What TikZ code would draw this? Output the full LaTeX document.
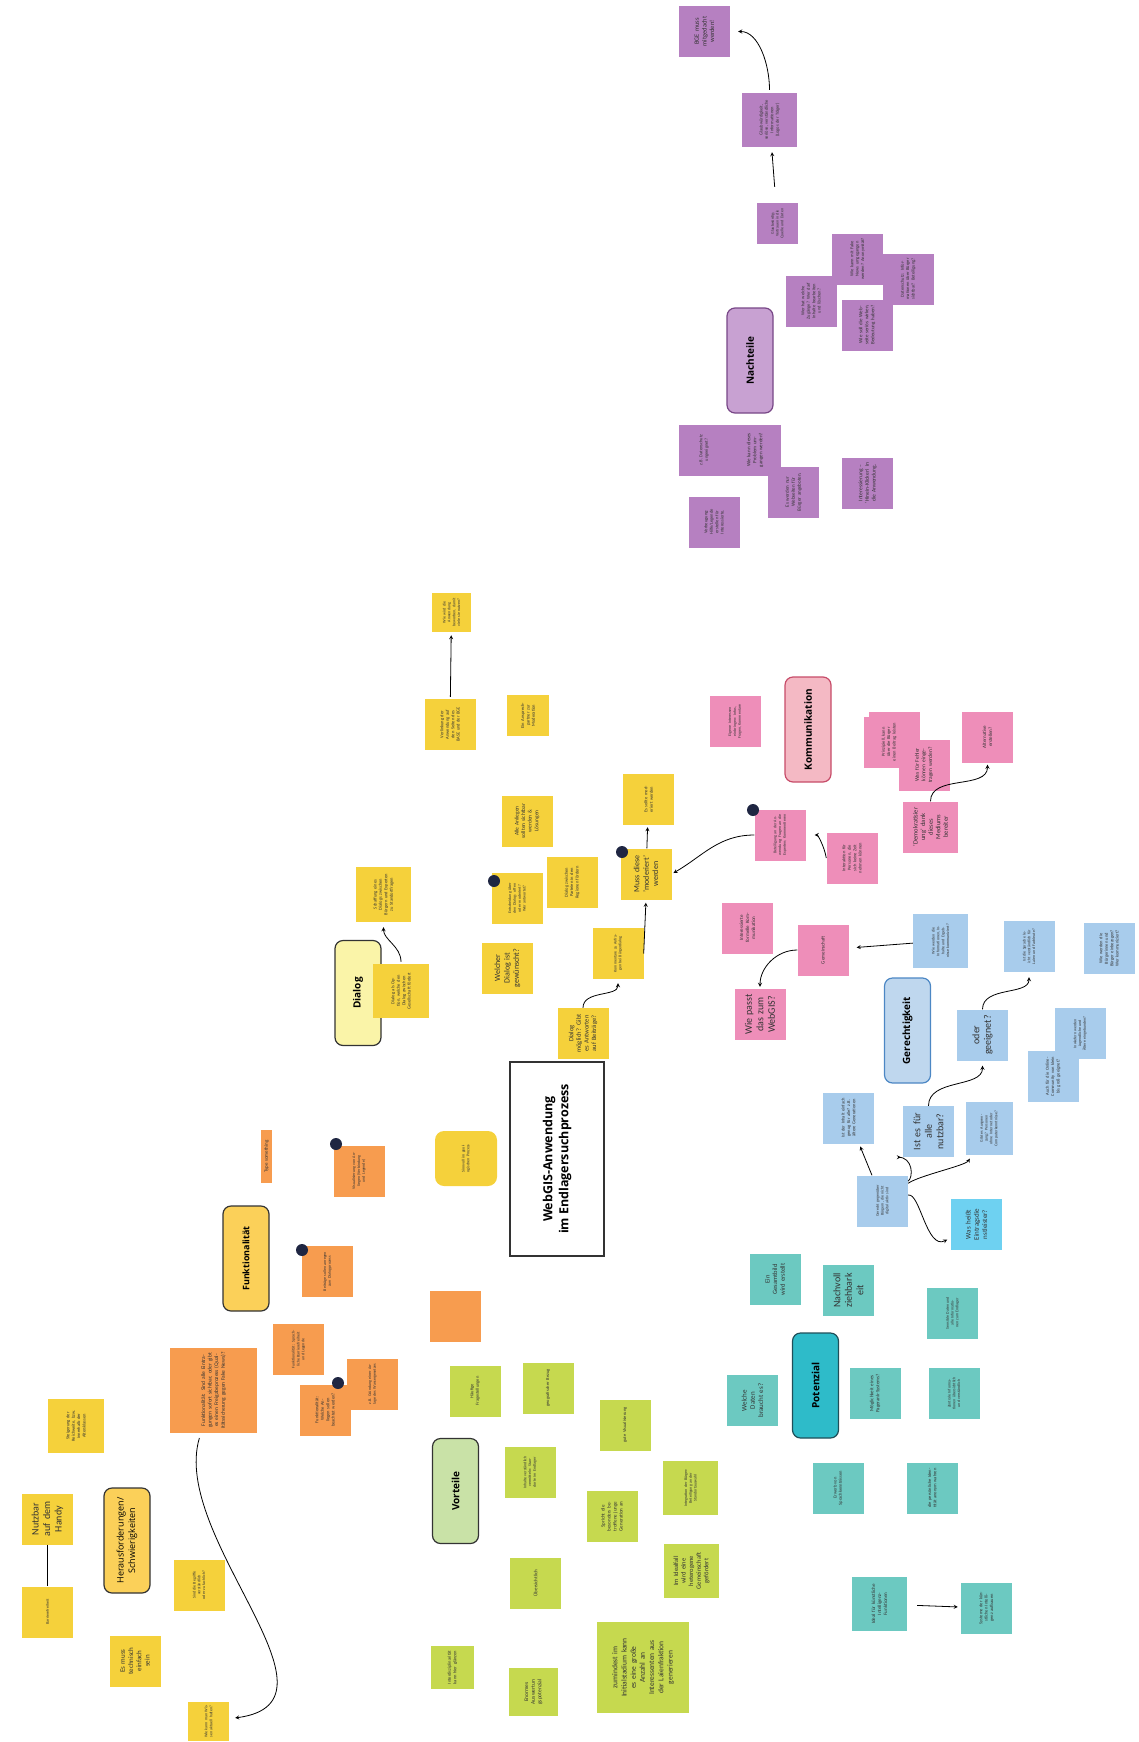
\documentclass[tikz,border=0pt]{standalone}
\usepackage{fontspec}
\setmainfont{Carlito}
\newfontfamily\headfont{Open Sans}
\newlength{\du}
\setlength{\du}{1pt}
\definecolor{textgray}{rgb}{0.200000, 0.200000, 0.200000}
\definecolor{dotblue}{rgb}{0.120000, 0.150000, 0.260000}
\definecolor{stickyyellow}{rgb}{0.960000, 0.820000, 0.230000}
\definecolor{stickyorange}{rgb}{0.970000, 0.610000, 0.310000}
\definecolor{stickypink}{rgb}{0.935000, 0.555000, 0.725000}
\definecolor{stickyblue}{rgb}{0.660000, 0.800000, 0.925000}
\definecolor{stickycyan}{rgb}{0.430000, 0.820000, 0.945000}
\definecolor{stickygreen}{rgb}{0.775000, 0.850000, 0.310000}
\definecolor{stickyteal}{rgb}{0.425000, 0.790000, 0.755000}
\definecolor{stickypurple}{rgb}{0.715000, 0.500000, 0.755000}
\definecolor{boxpurple}{rgb}{0.785000, 0.630000, 0.825000}
\definecolor{linepurple}{rgb}{0.470000, 0.280000, 0.530000}
\definecolor{boxyellow}{rgb}{0.985000, 0.815000, 0.350000}
\definecolor{boxlight}{rgb}{0.980000, 0.955000, 0.660000}
\definecolor{boxpink}{rgb}{0.955000, 0.725000, 0.770000}
\definecolor{linepink}{rgb}{0.780000, 0.300000, 0.410000}
\definecolor{boxblue}{rgb}{0.750000, 0.845000, 0.935000}
\definecolor{lineblue}{rgb}{0.300000, 0.530000, 0.770000}
\definecolor{boxteal}{rgb}{0.180000, 0.735000, 0.790000}
\definecolor{lineteal}{rgb}{0.120000, 0.310000, 0.350000}
\definecolor{boxgreen}{rgb}{0.790000, 0.885000, 0.655000}

\begin{document}
\begin{tikzpicture}[
  sticky/.style={rotate=90, minimum width=51\du, minimum height=51\du, inner sep=1\du, text width=42\du, align=center, text=textgray},
  keybox/.style={rotate=90, rounded corners=8\du, draw, line width=1.2\du, minimum width=105\du, minimum height=46\du, align=center, font=\headfont\bfseries\fontsize{10}{11.5}\selectfont},
  arr/.style={->, >=stealth, line width=0.8\du, black},
  sz4/.style={font=\fontsize{4}{4.8}\selectfont},
  sz45/.style={font=\fontsize{4.5}{5.4}\selectfont},
  sz5/.style={font=\fontsize{5}{6}\selectfont},
  sz55/.style={font=\fontsize{5.5}{6.6}\selectfont},
  sz65/.style={font=\fontsize{6.5}{7.6}\selectfont},
  sz7/.style={font=\fontsize{7}{8.2}\selectfont},
  sz8/.style={font=\fontsize{8}{9.4}\selectfont},
  sz10/.style={font=\fontsize{10}{11.5}\selectfont}
]
\pgftransformxscale{1.000000}
\pgftransformyscale{-1.000000}
\useasboundingbox (0\du,0\du) rectangle (1138\du,1742\du);
% Nachteile
\node[keybox, fill=boxpurple, draw=linepurple] (nachteile) at (750\du,360.5\du) {Nachteile};
\node[sticky, sz65, fill=stickypurple] (p1) at (704.5\du,31.5\du) {BGE muss mitgedacht werden!};
\node[sticky, sz45, fill=stickypurple, minimum width=54\du, minimum height=55\du] (p2) at (769.5\du,120\du) {Glaubwürdigkeit, seriöse, verständliche Informationen (Logos der Träger)};
\node[sticky, sz4, fill=stickypurple, minimum width=41\du, minimum height=41\du, text width=34\du] (p3) at (777.5\du,223.5\du) {Glaubwürdig; Vertrauen in die Quelle und Daten};
\node[sticky, sz45, fill=stickypurple] (p4) at (857.5\du,259\du) {Wie kann mit Fake News umgegangen werden? Anonymität?};
\node[sticky, sz45, fill=stickypurple] (p5) at (908\du,279\du) {Daten\-schutz: Informationen über Bürger sichtbar? Beteiligung?};
\node[sticky, sz45, fill=stickypurple] (p6) at (811\du,301\du) {Wer hat welche Zugänge? Wer darf Inhalte bearbeiten und löschen?};
\node[sticky, sz5, fill=stickypurple] (p7) at (867\du,325\du) {Wie soll die Webseite seriös wirken, Bedeutung haben?};
\node[sticky, sz45, fill=stickypurple] (p8) at (704\du,450\du) {z.B. Datenschutz ungeeignet?};
\node[sticky, sz5, fill=stickypurple] (p9) at (755\du,450\du) {Wie kann dieses Problem umgangen werden?};
\node[sticky, sz5, fill=stickypurple] (p10) at (793.5\du,492\du) {Es werden nur Webseiten für Bürger angeboten.};
\node[sticky, sz45, fill=stickypurple] (p11) at (714\du,522\du) {Vorbeugung: Hilfe/Legende erstellen für Interessierte.};
\node[sticky, sz55, fill=stickypurple] (p12) at (867.5\du,483\du) {Interessierung -- 'Hinein-Klicken' in die Anwendung.};
\draw[arr, shorten <=16\du, shorten >=5\du] (p3) -- (p2);
\draw[arr, shorten <=3\du, shorten >=8\du] (p2.east) to[out=-90, in=0] (p1.south);
% Dialog
\node[keybox, fill=boxlight, draw=textgray] (dialog) at (358\du,993\du) {Dialog};
\node[sticky, sz4, fill=stickyyellow, minimum width=39\du, minimum height=39\du, text width=32\du] (y1) at (451.5\du,612.5\du) {Wie wird die Anwendung beworben, damit viele sie nutzen?};
\node[sticky, sz45, fill=stickyyellow] (y2) at (450\du,724.5\du) {Verlinkung der Anwendung auf den Seiten des BASE und der BGE};
\node[sticky, sz45, fill=stickyyellow, minimum width=41\du, minimum height=42\du, text width=35\du] (y3) at (528\du,715.5\du) {Ein Ansprech\-partner zur Moderation};
\draw[arr, shorten <=2\du, shorten >=3\du] (y2) -- (y1);
\node[sticky, sz45, fill=stickyyellow, minimum width=54\du, minimum height=56\du] (d1) at (401\du,991\du) {Dialog als Option, welche den Dialog zwischen Gesellschaft fördert};
\node[sticky, sz45, fill=stickyyellow, minimum width=55\du, minimum height=55\du] (d2) at (383.5\du,894.5\du) {Schaffung eines Dialogs zwischen Bürgern und Experten zu Standort\-fragen};
\node[sticky, sz4, fill=stickyyellow] (d3) at (517\du,898.5\du) {Entscheidung über den Dialog: offen oder moderiert? Wer antwortet?};
\node[sticky, sz45, fill=stickyyellow] (d4) at (572\du,882.5\du) {Dialog zwischen Parteien in den Regionen fördern};
\node[sticky, sz55, fill=stickyyellow] (d5) at (527\du,821\du) {Alle Anliegen sollten sichtbar werden \& Lösungen};
\node[sticky, sz8, fill=stickyyellow] (d6) at (507.5\du,968\du) {Welcher\\Dialog ist\\gewünscht?};
\node[sticky, sz4, fill=stickyyellow] (d7) at (618\du,953.5\du) {Kommentare zu Anfragen bei Bürgerdialog};
\node[sticky, sz8, fill=stickyyellow] (d8) at (646\du,874\du) {Muss diese\\'moderiert'\\werden};
\node[sticky, sz45, fill=stickyyellow] (d9) at (648.5\du,799.5\du) {Es sollte moderiert werden};
\node[sticky, sz65, fill=stickyyellow] (d10) at (583\du,1033.5\du) {Dialog\\möglich? Gibt\\es Antworten\\auf Beiträge?};
\fill[dotblue] (494\du,881\du) circle[radius=6\du];
\fill[dotblue] (622\du,852\du) circle[radius=6\du];
\draw[arr, shorten <=2\du, shorten >=5\du] (d1.east) to[out=-90, in=90] (d2.west);
\draw[arr, shorten >=4\du] (d10.east) to[out=-90, in=90] (d7.west);
\draw[arr, shorten >=3\du] (d7.south) -- (d8.west);
\draw[arr, shorten >=2\du] (d8) -- (d9);
% Kommunikation
\node[keybox, fill=boxpink, draw=linepink] (kommunikation) at (808\du,729.5\du) {Kommunikation};
\node[sticky, sz4, fill=stickypink] (k0) at (735\du,721.5\du) {Eigene Interessen einbringen: Infos, Fragen, Kommentare};
\node[sticky, sz4, fill=stickypink] (k1) at (780\du,835\du) {Beteiligung an der Anwendung; Fragen an die Experten; Kommentieren};
\node[sticky, sz45, fill=stickypink] (k2a) at (894\du,737.5\du) {};
\node[sticky, sz45, fill=stickypink] (k2) at (889\du,742\du) {Prinzipiell, kann über die Bürger einen Beitrag leisten};
\node[sticky, sz55, fill=stickypink] (k3) at (924\du,765\du) {Was für Fehler können eingetragen werden?};
\node[sticky, sz5, fill=stickypink] (k4) at (987.5\du,737\du) {Alternative erstellen?};
\node[sticky, sz65, fill=stickypink, minimum height=55\du] (k5) at (930.5\du,827\du) {'Demokratisier\\ung' dank\\dieses\\Mediums\\bereiter};
\node[sticky, sz45, fill=stickypink] (k6) at (852\du,858\du) {Interaktion für Personen, die sich keine Zeit nehmen können};
\node[sticky, sz5, fill=stickypink] (k7) at (747.5\du,928\du) {Interessierte formelle Kommunikation};
\node[sticky, sz5, fill=stickypink] (k8) at (823\du,950\du) {Gemeinschaft};
\node[sticky, sz10, fill=stickypink] (k9) at (760\du,1014.5\du) {Wie passt\\das zum\\WebGIS?};
\fill[dotblue] (753\du,810\du) circle[radius=6\du];
\draw[arr, shorten >=2\du] (k5.east) to[out=-90, in=90] (k4.west);
\draw[arr, shorten >=9\du] (k6.north) to[out=-100, in=0] (k1.south);
\draw[arr, shorten >=2\du] (k1.north) to[out=180, in=-30] (d8.south);
\draw[arr, shorten >=2\du] (k8.north) to[out=180, in=-90] (k9.east);
% Gerechtigkeit
\node[keybox, fill=boxblue, draw=lineblue] (gerechtigkeit) at (907.5\du,1030.5\du) {Gerechtigkeit};
\node[sticky, sz4, fill=stickyblue, minimum width=54\du, minimum height=55\du] (b1) at (940.5\du,941\du) {Wie werden die Informationen, Inhalte und Ergebnisse kommuniziert?};
\node[sticky, sz4, fill=stickyblue] (b2) at (1029\du,946.5\du) {Ist die Sprache leicht verständlich für Laien und Fachleute?};
\node[sticky, sz45, fill=stickyblue] (b3) at (1109\du,948.5\du) {Wie werden die Bürgerinnen und Bürger einbezogen? Wer kommuniziert?};
\node[sticky, sz10, fill=stickyblue] (b4) at (982.5\du,1035\du) {oder\\geeignet?};
\node[sticky, sz4, fill=stickyblue] (b5) at (1080\du,1033.5\du) {Inwiefern werden Jugendliche und Ältere eingebunden?};
\node[sticky, sz45, fill=stickyblue] (b6) at (1053\du,1076.5\du) {Auch für die Online-Community von klein bis groß geeignet?};
\node[sticky, sz10, fill=stickyblue] (b7) at (928.5\du,1131.5\du) {Ist es für\\alle\\nutzbar?};
\node[sticky, sz4, fill=stickyblue, minimum width=53\du, minimum height=47\du, text width=40\du] (b8) at (989\du,1128.5\du) {Gibt es Ausgrenzung? Personen ohne Internet oder Computer\-kenntnisse?};
\node[sticky, sz45, fill=stickyblue] (b9) at (848.5\du,1118\du) {Ist der Inhalt einfach genug für alle? z.B. ältere Generationen};
\node[sticky, sz4, fill=stickyblue] (b10) at (882.5\du,1201\du) {Gerecht gegenüber Bürgern, die nicht digital aktiv sind};
\node[sticky, sz7, fill=stickycyan] (b11) at (976.5\du,1224.5\du) {Was heißt\\Eintragsdie\\nstleister?};
\draw[arr, shorten >=8\du] (b1) -- (k8);
\draw[arr, shorten >=3\du] (b10) -- (b9);
\draw[arr, shorten >=12\du] (b10) to[out=-70, in=180] (b7);
\draw[arr, shorten >=4\du] (b10) to[out=0, in=90] (b8);
\draw[arr, shorten >=4\du] (b10) to[out=20, in=180] (b11);
\draw[arr, shorten >=5\du] (b7.east) to[out=-90, in=90] (b4.west);
\draw[arr, shorten >=5\du] (b4.east) to[out=-90, in=90] (b2.west);
% Titel
% setfont left to latex
\node[rotate=90, draw=textgray, line width=1.2\du, fill=white, minimum width=194\du, minimum height=94\du, align=center, font=\headfont\bfseries\fontsize{12.5}{16}\selectfont] (titel) at (557\du,1159\du) {WebGIS-Anwendung\\im Endlagersuchprozess};
% Funktionalitaet
\node[keybox, fill=boxyellow, draw=textgray, font=\headfont\bfseries\fontsize{9}{10.5}\selectfont] (funktionalitaet) at (246\du,1258.5\du) {Funktionalität};
\node[rotate=90, fill=stickyorange, inner sep=1\du, minimum width=53\du, minimum height=11\du, sz5, text=textgray] (o0) at (266.5\du,1156.5\du) {Type something};
\node[sticky, sz4, fill=stickyorange] (o1) at (359\du,1171\du) {Visualisierung von Anliegen (Verbindung und Legende)};
\node[sticky, sz4, fill=stickyorange] (o2) at (327.5\du,1271.5\du) {Beiträge sollen anregen zum Dialog\-prozess};
\node[sticky, fill=stickyorange] (o3) at (455\du,1316.5\du) {};
\node[sticky, sz4, fill=stickyorange] (o4) at (298.5\du,1349.5\du) {Funktionalität: Sprachliche Barriere\-freiheit und Legende};
\node[sticky, sz55, fill=stickyorange, minimum width=85\du, minimum height=87\du, text width=78\du] (o5) at (213.5\du,1390.5\du) {Funktionalität: Sind alle Eintragungen sofort sichtbar, oder gibt es einen Freigabeprozess (Qualitätssicherung gegen Fake News)?};
\node[sticky, sz4, fill=stickyorange] (o6) at (372.5\du,1384\du) {z.B. Gründung einer Anlage des Wassergesetzes};
\node[sticky, sz45, fill=stickyorange] (o7) at (325\du,1410\du) {Funktionalität: Welche Anliegen sollen beachtet werden?};
\node[sticky, sz4, fill=stickyyellow, rounded corners=9\du, minimum width=55\du, minimum height=62\du] (sinnvoll) at (466\du,1158.5\du) {Sinnvoll im geologischen Prozess};
\fill[dotblue] (336\du,1144\du) circle[radius=6\du];
\fill[dotblue] (302\du,1250\du) circle[radius=6\du];
\fill[dotblue] (338\du,1383\du) circle[radius=6\du];
% Vorteile
\node[keybox, fill=boxgreen, draw=textgray] (vorteile) at (455.5\du,1491\du) {Vorteile};
\node[sticky, sz45, fill=stickygreen] (g1) at (475\du,1391\du) {Häufige Fragestellungen};
\node[sticky, sz45, fill=stickygreen] (g2) at (548\du,1388\du) {geografischer Bezug};
\node[sticky, sz45, fill=stickygreen] (g3) at (625\du,1425\du) {gute Visualisierung};
\node[sticky, sz4, fill=stickygreen] (g4) at (530\du,1472.5\du) {Inhalte verständlich vermitteln: Standorte im Endlager};
\node[sticky, sz5, fill=stickygreen] (g5) at (612\du,1516.5\du) {Spricht die besonders betroffene junge Generation an};
\node[sticky, sz4, fill=stickygreen, minimum width=54\du, minimum height=55\du] (g6) at (690.5\du,1488\du) {Integration der Bürger: Beteiligung an der Standort\-auswahl};
\node[sticky, sz5, fill=stickygreen] (g7) at (535.5\du,1583\du) {Übersichtlich};
\node[sticky, sz65, fill=stickygreen, minimum width=54\du, minimum height=55\du] (g8) at (691.5\du,1571\du) {Im Idealfall\\wird eine\\heterogene\\Gemeinschaft\\gefördert};
\node[sticky, sz45, fill=stickygreen, minimum width=43\du, minimum height=43\du, text width=36\du] (g9) at (452.5\du,1667.5\du) {Interdiszipli\-narität kann hier glänzen};
\node[sticky, sz55, fill=stickygreen, minimum width=48\du, minimum height=49\du] (g10) at (533.5\du,1692\du) {Enormes\\Auswertun\\gspotenzial};
\node[sticky, fill=stickygreen, minimum width=91\du, minimum height=92\du, text width=84\du, font=\fontsize{7.5}{9.2}\selectfont] (g11) at (643\du,1667.5\du) {zumindest im\\Initialstadium kann\\es eine große\\Anzahl an\\Interessenten aus\\der Laienfraktion\\generieren};
% Potenzial
\node[keybox, fill=boxteal, draw=lineteal] (potenzial) at (815.5\du,1385.5\du) {Potenzial};
\node[sticky, sz65, fill=stickyteal] (t1) at (775\du,1279.5\du) {Ein\\Gesamtbild\\wird erstellt};
\node[sticky, sz10, fill=stickyteal] (t2) at (848.5\du,1290.5\du) {Nachvoll\\ziehbark\\eit};
\node[sticky, sz4, fill=stickyteal] (t3) at (952.5\du,1313\du) {Sensible Daten und alle Informationen zum Endlager};
\node[sticky, sz7, fill=stickyteal] (t4) at (752.5\du,1400.5\du) {Welche\\Daten\\braucht es?};
\node[sticky, sz5, fill=stickyteal] (t5) at (875\du,1393.5\du) {Möglichkeit eines Pagerank-Systems?};
\node[sticky, sz4, fill=stickyteal] (t6) at (954\du,1393.5\du) {Zentrale Informationen übersichtlich und verständlich};
\node[sticky, sz45, fill=stickyteal] (t7) at (838\du,1488\du) {Erwerb von Sprachkenntnissen};
\node[sticky, sz45, fill=stickyteal] (t8) at (932.5\du,1488\du) {die persönliche Identität anonym wahren};
\node[sticky, sz5, fill=stickyteal, minimum width=54\du, minimum height=55\du] (t9) at (879.5\du,1604\du) {Ideal für künstliche Intelligenz-Funktionen};
\node[sticky, sz45, fill=stickyteal] (t10) at (986.5\du,1608\du) {Systeme der künstlichen Intelligenz aufbauen};
\draw[arr, shorten <=10\du, shorten >=3\du] (t9) -- (t10);
% Herausforderungen
\node[keybox, fill=boxyellow, draw=textgray, font=\headfont\fontsize{9}{11.5}\selectfont] (herausforderungen) at (127\du,1540.5\du) {Herausforderungen/\\Schwierigkeiten};
\node[sticky, sz45, fill=stickyyellow, minimum width=54\du, minimum height=56\du] (h1) at (76\du,1426\du) {Steigerung der Reichweite, bzw. innerhalb der Altersklassen};
\node[sticky, sz10, fill=stickyyellow] (h2) at (47.5\du,1519\du) {Nutzbar\\auf dem\\Handy};
\node[sticky, sz4, fill=stickyyellow] (h3) at (47.5\du,1612\du) {Barrierefreiheit};
\node[sticky, sz4, fill=stickyyellow] (h4) at (199\du,1585\du) {Sind die Begriffe verständlich oder zu fachlich?};
\node[sticky, sz4, fill=stickyyellow, minimum width=39\du, minimum height=41\du, text width=34\du] (h5) at (208.5\du,1721.5\du) {Wie kann man Wissen aktuell halten?};
\node[sticky, sz7, fill=stickyyellow] (h6) at (135\du,1661\du) {Es muss\\technisch\\einfach\\sein};
\draw[line width=1.5\du, black] (h2) -- (h3);
\draw[arr, shorten <=5\du, shorten >=6\du] (o5) to[out=90, in=0, looseness=1.2] (h5);
\end{tikzpicture}
\end{document}
